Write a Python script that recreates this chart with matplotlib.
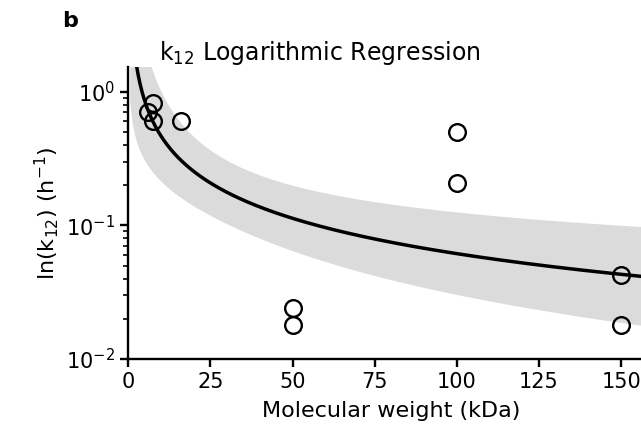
import numpy as np
import matplotlib
matplotlib.use("Agg")
import matplotlib.pyplot as plt

# Data
mw_kda = [6.1, 7.4, 7.6, 15.9, 50, 50, 100, 100, 150, 150]
k12 = [0.70, 0.82, 0.60, 0.60, 0.024, 0.018, 0.50, 0.206, 0.0425, 0.018]
x_ticks = [0, 25, 50, 75, 100, 125, 150]

# Logarithmic regression: ln(k12) = a + b*ln(MW)
lx = np.log(np.array(mw_kda))
ly = np.log(np.array(k12))
b, a = np.polyfit(lx, ly, 1)
n = len(lx)
resid = ly - (a + b * lx)
s = np.sqrt(np.sum(resid ** 2) / (n - 2))
sxx = np.sum((lx - lx.mean()) ** 2)
band_scale = 1.35

xg = np.linspace(0.6, 165, 600)
lxg = np.log(xg)
fit = a + b * lxg
se = s * np.sqrt(1.0 / n + (lxg - lx.mean()) ** 2 / sxx)
upper = np.exp(fit + band_scale * se)
lower = np.exp(fit - band_scale * se)

plt.rcParams['font.family'] = ['DejaVu Sans']
fig = plt.figure(figsize=(6.41, 4.38), dpi=100)
W, H = 641, 438
left_px, right_px, top_px, bot_px = 128.3, 654, 67, 359
ax = fig.add_axes([left_px / W, 1 - bot_px / H, (right_px - left_px) / W, (bot_px - top_px) / H])

ax.fill_between(xg, lower, upper, color='0.86', linewidth=0, zorder=1)
ax.plot(xg, np.exp(fit), color='black', lw=2.5, zorder=2)
ax.plot(mw_kda, k12, linestyle='none', marker='o', markersize=12,
        markerfacecolor='none', markeredgecolor='black', markeredgewidth=1.7, zorder=3)

ax.set_yscale('log')
ax.set_xlim(0, 160)
ax.set_ylim(0.01, 10 ** 0.185)
ax.set_xticks(x_ticks)
ax.set_xticklabels([str(t) for t in x_ticks])

for sp in ['top', 'right']:
    ax.spines[sp].set_visible(False)
for sp in ['left', 'bottom']:
    ax.spines[sp].set_linewidth(1.7)
ax.tick_params(axis='both', which='major', labelsize=15, width=1.7, length=6, direction='out')
ax.tick_params(axis='y', which='minor', width=1.2, length=3.5)

ax.set_xlabel('Molecular weight (kDa)', fontsize=16, labelpad=6)
ax.set_ylabel('ln(k$_{12}$) (h$^{-1}$)', fontsize=16, labelpad=4)
ax.set_title('k$_{12}$ Logarithmic Regression', fontsize=17, x=0.365, pad=4)

fig.text(62 / W, 1 - 21 / H, 'b', fontsize=16, fontweight='bold', va='center', ha='left')

fig.savefig('out.png', dpi=100)
